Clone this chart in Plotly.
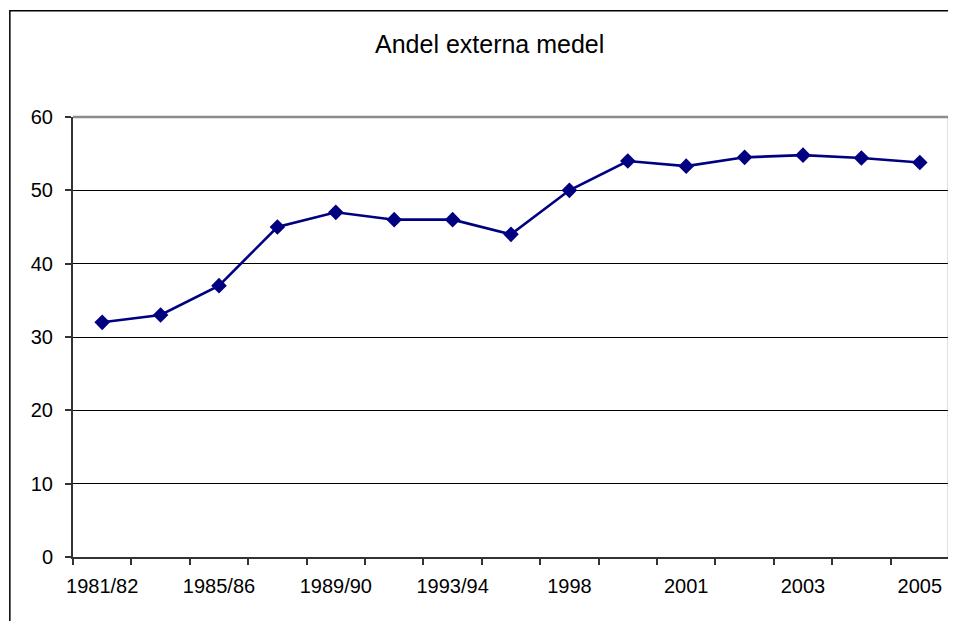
import plotly.graph_objects as go

categories = ["1981/82", "1983/84", "1985/86", "1987/88", "1989/90", "1991/92",
              "1993/94", "1995/96", "1998", "1999", "2001", "2002", "2003",
              "2004", "2005"]
values = [32.0, 33.0, 37.0, 45.0, 47.0, 46.0, 46.0, 44.0, 50.0, 54.0, 53.3,
          54.5, 54.8, 54.4, 53.8]
title_text = "Andel externa medel"
y_ticks = [0, 10, 20, 30, 40, 50, 60]

# the page body has an 8px margin, so the figure is placed at (8, 8)
OFF = 8
W, H = 956 - OFF, 621 - OFF
# plot area in window pixels: left 72.7, right 949.3, top 116.7, bottom 556.7
L = 72.7 - OFF
R = W - (949.3 - OFF)
T = 116.7 - OFF
B = H - (556.7 - OFF)
pw = W - L - R
ph = H - T - B


def px_x(p):
    return (p - OFF - L) / pw


def px_y(p):
    return (H - B - (p - OFF)) / ph


fig = go.Figure()
fig.add_trace(go.Scatter(
    x=categories, y=values, mode="lines+markers",
    line=dict(color="#000080", width=2.6),
    marker=dict(symbol="diamond", size=12, color="#000080"),
    showlegend=False, cliponaxis=False,
))

font = dict(family="Liberation Sans, Arial, sans-serif", color="black")

fig.update_layout(
    width=W, height=H,
    margin=dict(l=L, r=R, t=T, b=B, pad=0, autoexpand=False),
    paper_bgcolor="white", plot_bgcolor="white",
    font=dict(size=20, **font),
    xaxis=dict(
        type="category", categoryorder="array", categoryarray=categories,
        range=[-0.5, len(categories) - 0.5], automargin=False,
        tickson="boundaries", ticks="outside", ticklen=6, tickwidth=1.5,
        tickcolor="#333333", ticklabelstep=2, tickangle=0,
        showline=True, linecolor="#333333", linewidth=2,
        showgrid=False, zeroline=False,
        tickfont=dict(size=20, **font), ticklabelstandoff=10,
    ),
    yaxis=dict(
        range=[0, 60], tickvals=y_ticks, ticks="outside", ticklen=6,
        tickwidth=1.5, tickcolor="#333333", automargin=False,
        showline=True, linecolor="#333333", linewidth=2,
        showgrid=True, gridcolor="black", gridwidth=1, zeroline=False,
        tickfont=dict(size=20, **font), ticklabelstandoff=8,
    ),
    annotations=[dict(
        text=title_text, xref="paper", yref="paper",
        x=px_x(489), y=px_y(44), xanchor="center", yanchor="middle",
        showarrow=False, font=dict(size=25, **font),
    )],
    shapes=[
        # outer chart border
        dict(type="rect", xref="paper", yref="paper",
             x0=px_x(9.5), x1=px_x(990), y0=px_y(10.5), y1=px_y(660),
             line=dict(color="black", width=1.5), layer="below"),
        # plot area top & right border (gray)
        dict(type="line", xref="paper", yref="paper",
             x0=0, x1=1, y0=1, y1=1,
             line=dict(color="#8c8c8c", width=2.5), layer="above"),
        dict(type="line", xref="paper", yref="paper",
             x0=1, x1=1, y0=0, y1=1,
             line=dict(color="#8c8c8c", width=2.5), layer="above"),
    ],
)

fig.write_html("out.html")
